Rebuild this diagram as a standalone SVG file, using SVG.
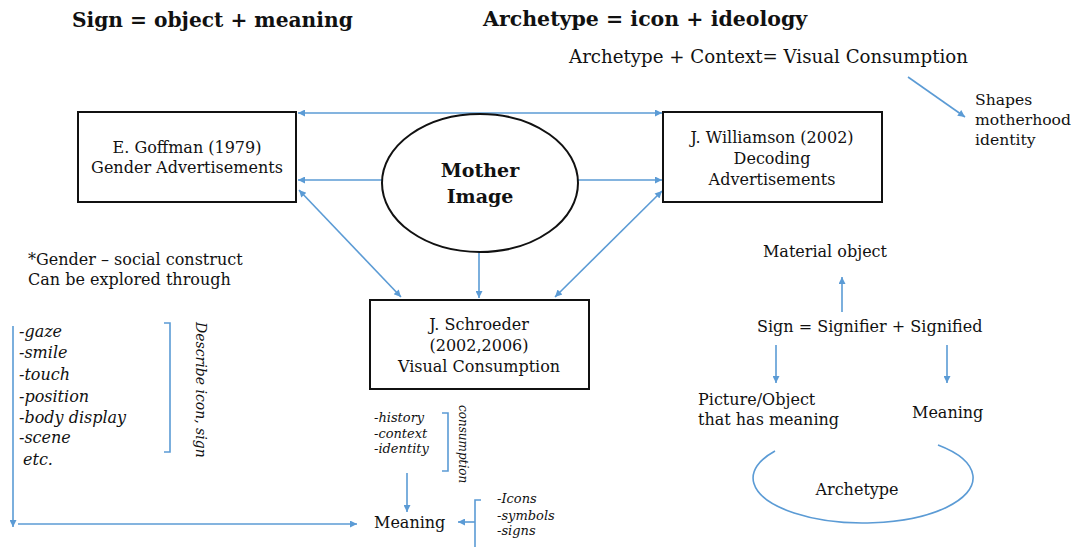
<svg xmlns="http://www.w3.org/2000/svg" width="1072" height="547" viewBox="0 0 1072 547">
  <defs>
    <marker id="ah" viewBox="0 0 10 10" refX="10" refY="5" markerWidth="9" markerHeight="7" markerUnits="userSpaceOnUse" orient="auto-start-reverse">
      <path d="M0,0 L10,5 L0,10 z" fill="#5b9bd5"/>
    </marker>
    <style>
      text { font-family: "DejaVu Serif", "Liberation Serif", serif; fill: #111; }
      .title { font-size: 20.2px; font-weight: bold; }
      .lbl { font-size: 16px; }
      .mid { text-anchor: middle; }
      .it { font-style: italic; }
      .sm { font-size: 13px; font-style: italic; }
      .box { fill: #fff; stroke: #111; stroke-width: 2; }
      .ln { fill: none; stroke: #5b9bd5; stroke-width: 1.6; }
      .arr { marker-end: url(#ah); }
      .dbl { marker-start: url(#ah); marker-end: url(#ah); }
    </style>
  </defs>
  <rect width="1072" height="547" fill="#fff"/>

  <!-- headings -->
  <text class="title" x="72" y="27">Sign = object + meaning</text>
  <text class="title" x="483" y="26" style="font-size:20.5px">Archetype = icon + ideology</text>
  <text class="lbl" x="569" y="63" style="font-size:18.2px">Archetype + Context= Visual Consumption</text>
  <text class="lbl" x="975" y="105" style="font-size:15.6px">Shapes</text>
  <text class="lbl" x="975" y="125" style="font-size:15.6px">motherhood</text>
  <text class="lbl" x="975" y="145" style="font-size:15.6px">identity</text>

  <!-- connectors -->
  <g id="connectors">
    <line class="ln dbl" x1="298" y1="113" x2="662" y2="113"/>
    <line class="ln arr" x1="383" y1="180" x2="298" y2="180"/>
    <line class="ln arr" x1="578" y1="180" x2="662" y2="180"/>
    <line class="ln dbl" x1="299" y1="190" x2="401" y2="297"/>
    <line class="ln arr" x1="479" y1="252" x2="479" y2="298"/>
    <line class="ln dbl" x1="555" y1="297" x2="662" y2="191"/>
    <line class="ln arr" x1="908" y1="77" x2="965" y2="117"/>
    <!-- left list path to Meaning -->
    <line class="ln arr" x1="13" y1="326" x2="13" y2="527"/>
    <line class="ln arr" x1="18" y1="524" x2="357" y2="524"/>
    <!-- bracket: left list -->
    <path class="ln" d="M164,323 H170 V452 H164"/>
    <!-- bracket: history/context/identity -->
    <path class="ln" d="M442,413 H448 V471 H442"/>
    <line class="ln arr" x1="407" y1="473" x2="407" y2="512"/>
    <!-- bracket: icons/symbols/signs -->
    <path class="ln" d="M481,500 H475 V547"/>
    <line class="ln arr" x1="475" y1="522" x2="458" y2="522"/>
    <!-- sign diagram -->
    <line class="ln arr" x1="842" y1="312" x2="842" y2="277"/>
    <line class="ln arr" x1="776" y1="345" x2="776" y2="383"/>
    <line class="ln arr" x1="947" y1="345" x2="947" y2="383"/>
  </g>

  <g id="goffman">
    <rect class="box" x="78" y="112" width="218" height="90"/>
    <text class="lbl mid" x="187" y="153">E. Goffman (1979)</text>
    <text class="lbl mid" x="187" y="173">Gender Advertisements</text>
  </g>

  <g id="williamson">
    <rect class="box" x="663" y="112" width="219" height="90"/>
    <text class="lbl mid" x="772" y="143">J. Williamson (2002)</text>
    <text class="lbl mid" x="772" y="164">Decoding</text>
    <text class="lbl mid" x="772" y="185">Advertisements</text>
  </g>

  <g id="mother-image">
    <ellipse cx="480" cy="183" rx="98" ry="69" fill="#fff" stroke="#111" stroke-width="2"/>
    <text class="mid" x="480" y="177" style="font-size:19px;font-weight:bold">Mother</text>
    <text class="mid" x="480" y="203" style="font-size:19px;font-weight:bold">Image</text>
  </g>

  <g id="schroeder">
    <rect class="box" x="370" y="300" width="219" height="89"/>
    <text class="lbl mid" x="479" y="330">J. Schroeder</text>
    <text class="lbl mid" x="479" y="351">(2002,2006)</text>
    <text class="lbl mid" x="479" y="372">Visual Consumption</text>
  </g>

  <g id="gender-notes">
    <text class="lbl" x="28" y="265">*Gender – social construct</text>
    <text class="lbl" x="28" y="285">Can be explored through</text>
    <text class="lbl it" x="19" y="337">-gaze</text>
    <text class="lbl it" x="19" y="358">-smile</text>
    <text class="lbl it" x="19" y="380">-touch</text>
    <text class="lbl it" x="19" y="402">-position</text>
    <text class="lbl it" x="19" y="423">-body display</text>
    <text class="lbl it" x="19" y="443">-scene</text>
    <text class="lbl it" x="23" y="465">etc.</text>
    <text class="it" transform="translate(196,322) rotate(90)" style="font-size:14px">Describe icon, sign</text>
  </g>

  <g id="consumption-notes">
    <text class="sm" x="374" y="422">-history</text>
    <text class="sm" x="374" y="438">-context</text>
    <text class="sm" x="374" y="453">-identity</text>
    <text class="sm" transform="translate(459,405) rotate(90)" style="font-size:12px">consumption</text>
  </g>

  <g id="meaning">
    <text class="lbl" x="374" y="528">Meaning</text>
  </g>

  <g id="icon-notes">
    <text class="sm" x="497" y="503">-Icons</text>
    <text class="sm" x="497" y="520">-symbols</text>
    <text class="sm" x="497" y="535">-signs</text>
  </g>

  <g id="sign-model">
    <text class="lbl mid" x="825" y="257">Material object</text>
    <text class="lbl" x="757" y="332">Sign = Signifier + Signified</text>
    <text class="lbl" x="698" y="405">Picture/Object</text>
    <text class="lbl" x="698" y="425">that has meaning</text>
    <text class="lbl" x="912" y="418">Meaning</text>
  </g>

  <g id="archetype">
    <path class="ln" d="M775,451 A110,45 0 1 0 938,445"/>
    <text class="lbl mid" x="857" y="495">Archetype</text>
  </g>
</svg>
